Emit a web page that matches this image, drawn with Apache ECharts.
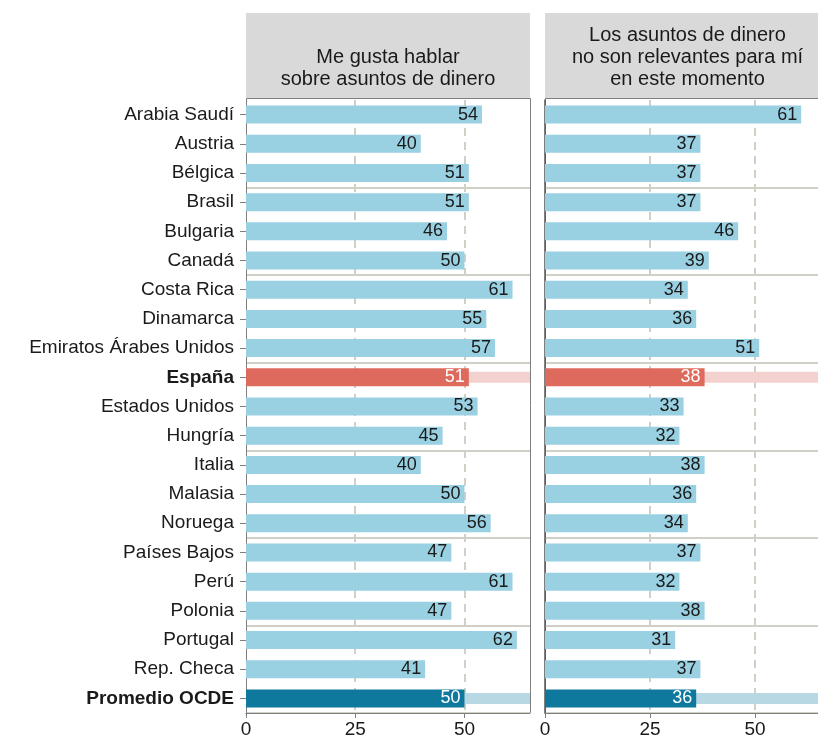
<!DOCTYPE html>
<html>
<head>
<meta charset="utf-8">
<script src="https://cdn.jsdelivr.net/npm/echarts@6/dist/echarts.min.js"></script>
<style>
  html, body { margin: 0; padding: 0; background: #fff; }
  #chart { width: 818px; height: 744px; }
</style>
</head>
<body>
<div id="chart"></div>
<script>
const countries = [
  'Arabia Saudí', 'Austria', 'Bélgica', 'Brasil', 'Bulgaria', 'Canadá',
  'Costa Rica', 'Dinamarca', 'Emiratos Árabes Unidos', 'España', 'Estados Unidos',
  'Hungría', 'Italia', 'Malasia', 'Noruega', 'Países Bajos', 'Perú', 'Polonia',
  'Portugal', 'Rep. Checa', 'Promedio OCDE'
]
const meGusta = [54, 40, 51, 51, 46, 50, 61, 55, 57, 51, 53, 45, 40, 50, 56, 47, 61, 47, 62, 41, 50]
const noRelevantes = [61, 37, 37, 37, 46, 39, 34, 36, 51, 38, 33, 32, 38, 36, 34, 37, 32, 38, 31, 37, 36]
const xTicks = [0, 25, 50]
const xMax = 65
const titles = [
  'Me gusta hablar\nsobre asuntos de dinero',
  'Los asuntos de dinero\nno son relevantes para mí\nen este momento'
]
const highlighted = ['España', 'Promedio OCDE']

const FONT = '"Liberation Sans", Arial, sans-serif'
const BLUE = '#99d0e2'
const barColor = { 'España': '#dd6a5c', 'Promedio OCDE': '#0f799d' }
const bandColor = { 'España': '#f3d1cf', 'Promedio OCDE': '#b8d8e3' }
const GRIDLINE = '#d0d0c6'

const panels = [
  { left: 246, width: 284, values: meGusta, title: titles[0] },
  { left: 545, width: 285, values: noRelevantes, title: titles[1] }
]
const plotTop = 100
const plotHeight = 613

const grids = []
const xAxes = []
const yAxes = []
const series = []
const graphic = []

panels.forEach((p, i) => {
  grids.push({ left: p.left, top: plotTop, width: p.width, height: plotHeight, containLabel: false })
  xAxes.push({
    type: 'value',
    gridIndex: i,
    min: 0,
    max: xMax,
    interval: 25,
    axisLine: { show: true, lineStyle: { color: '#7f7f7f', width: 1 } },
    axisTick: { show: true, length: 5, customValues: xTicks, lineStyle: { color: '#7f7f7f' } },
    axisLabel: { customValues: xTicks, color: '#1a1a1a', fontSize: 19, fontFamily: FONT, margin: 7 },
    splitLine: {
      show: true,
      lineStyle: { color: ['rgba(0,0,0,0)', GRIDLINE, GRIDLINE, 'rgba(0,0,0,0)'], width: 2, type: [8, 6] }
    }
  })
  // main category axis
  yAxes.push({
    type: 'category',
    gridIndex: i,
    inverse: true,
    data: countries,
    axisLine: { show: true, lineStyle: { color: i === 0 ? '#7f7f7f' : '#555', width: i === 0 ? 1 : 1.5 } },
    axisTick: { show: i === 0, length: 6, alignWithLabel: true, lineStyle: { color: '#7f7f7f' } },
    axisLabel: {
      show: i === 0,
      margin: 12,
      fontSize: 19,
      fontFamily: FONT,
      color: '#1a1a1a',
      formatter: v => highlighted.includes(v) ? '{b|' + v + '}' : v,
      rich: { b: { fontWeight: 'bold', fontSize: 19, fontFamily: FONT, color: '#1a1a1a' } }
    },
    splitLine: {
      show: true,
      interval: idx => idx % 3 === 0 && idx > 0,
      lineStyle: { color: GRIDLINE, width: 2 }
    }
  })
  // hidden axis for the highlight bands
  yAxes.push({
    type: 'category',
    gridIndex: i,
    inverse: true,
    data: countries,
    show: false
  })

  series.push({
    type: 'bar',
    xAxisIndex: i,
    yAxisIndex: i * 2 + 1,
    barWidth: 11,
    silent: true,
    z: 1,
    data: countries.map(c => bandColor[c] ? { value: xMax, itemStyle: { color: bandColor[c] } } : '-')
  })
  series.push({
    type: 'bar',
    xAxisIndex: i,
    yAxisIndex: i * 2,
    barWidth: 18,
    z: 3,
    data: p.values.map((v, k) => {
      const c = countries[k]
      return {
        value: v,
        itemStyle: { color: barColor[c] || BLUE },
        label: { color: barColor[c] ? '#fff' : '#1a1a1a' }
      }
    }),
    label: {
      show: true,
      position: 'insideRight',
      distance: 4,
      fontSize: 18,
      fontFamily: FONT
    }
  })

  graphic.push({
    type: 'rect',
    z: 0,
    shape: { x: p.left, y: 13, width: p.width, height: 85 },
    style: { fill: '#d9d9d9' }
  })
  graphic.push({
    type: 'text',
    z: 5,
    x: p.left + p.width / 2,
    y: i === 0 ? 68 : 57,
    style: {
      text: p.title,
      align: 'center',
      verticalAlign: 'middle',
      font: '20px ' + FONT,
      lineHeight: 22,
      fill: '#1a1a1a'
    }
  })
  graphic.push({
    type: 'rect',
    z: 0,
    shape: { x: p.left + 0.5, y: 98.5, width: p.width, height: 614 },
    style: { fill: 'none', stroke: '#7f7f7f', lineWidth: 1 }
  })
})

const chart = echarts.init(document.getElementById('chart'))
chart.setOption({
  animation: false,
  backgroundColor: '#fff',
  grid: grids,
  xAxis: xAxes,
  yAxis: yAxes,
  series: series,
  graphic: graphic
})
</script>
</body>
</html>
